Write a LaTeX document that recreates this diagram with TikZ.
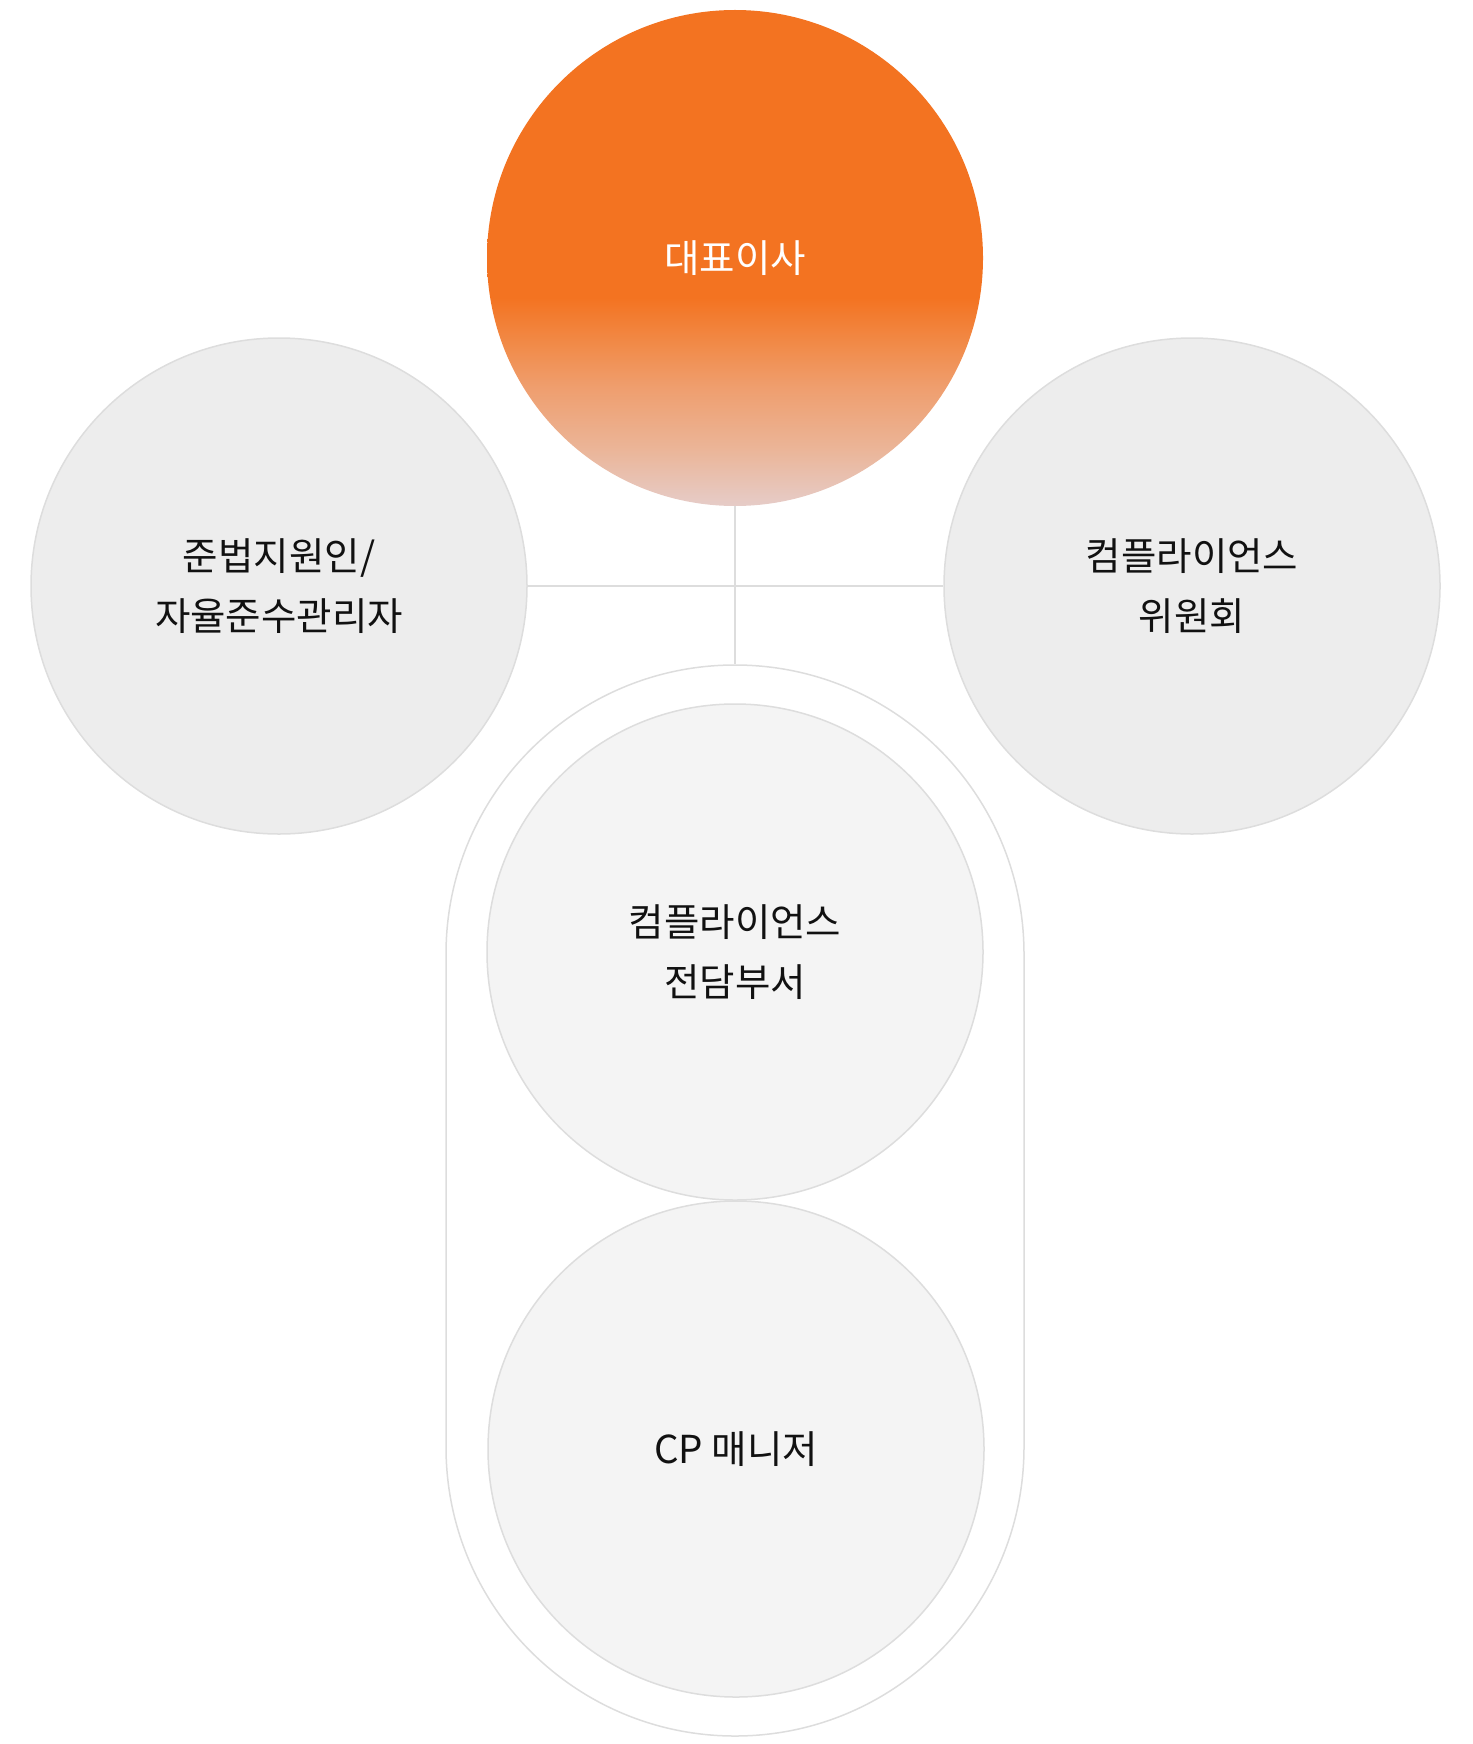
\documentclass[tikz,border=0pt]{standalone}
\usepackage{fontspec}
\newfontfamily\kr{Noto Sans CJK KR}
\definecolor{orng}{RGB}{243,115,33}
\definecolor{fadeA}{RGB}{241,140,75}
\definecolor{fadeB}{RGB}{239,158,110}
\definecolor{fadeC}{RGB}{235,180,150}
\definecolor{fadeD}{RGB}{230,204,200}
\definecolor{lineg}{RGB}{221,221,221}
\definecolor{grA}{RGB}{237,237,237}
\definecolor{grB}{RGB}{244,244,244}
\definecolor{txtc}{RGB}{17,17,17}
\pgfdeclareverticalshading{ceofade}{100bp}{color(0bp)=(fadeD); color(25bp)=(fadeD); color(31bp)=(fadeC); color(37bp)=(fadeB); color(41bp)=(fadeA); color(46bp)=(orng); color(100bp)=(orng)}
\begin{document}
\begin{tikzpicture}[x=1pt,y=-1pt,
  txt/.style={font=\kr\fontsize{38.5}{60}\selectfont, align=center, text=txtc},
  bigcirc/.style={circle, minimum size=496pt, inner sep=0pt, txt},
  sidecirc/.style={bigcirc, draw=lineg, line width=1.5pt, fill=grA},
  inncirc/.style={bigcirc, draw=lineg, line width=1.5pt, fill=grB},
  ceocirc/.style={bigcirc, shading=ceofade, text=white},
  capsule/.style={rectangle, draw=lineg, line width=1.5pt, fill=white, minimum width=578pt, minimum height=1071pt, rounded corners=288.9pt, inner sep=0pt},
  conn/.style={draw=lineg, line width=2pt}]
\useasboundingbox (0,0) rectangle (1472,1744);
\node[capsule] (cap) at (735,1200.5) {};
\node[ceocirc] (ceo) at (735,258) {대표이사};
\node[sidecirc] (left) at (279,586) {준법지원인/\\자율준수관리자};
\node[sidecirc] (right) at (1192,586) {컴플라이언스\\위원회};
\node[inncirc] (dept) at (735,952) {컴플라이언스\\전담부서};
\node[inncirc] (mgr) at (736,1449) {CP 매니저};
\draw[conn] (left.east) -- (right.west);
\draw[conn] (ceo.south) -- (cap.north);
\end{tikzpicture}
\end{document}
